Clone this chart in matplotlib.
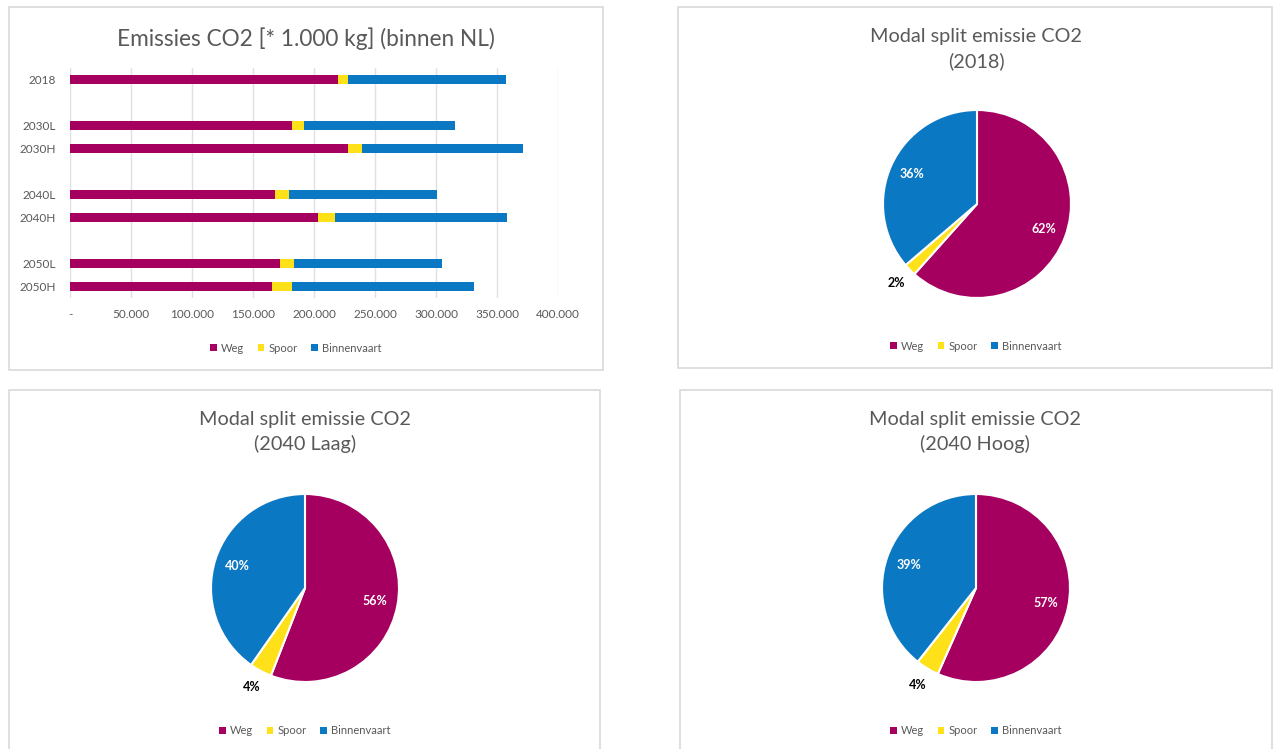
import numpy as np
import matplotlib
matplotlib.use("Agg")
import matplotlib.pyplot as plt
from matplotlib.patches import Rectangle, Patch
from matplotlib.ticker import FixedLocator, FixedFormatter

plt.rcParams['font.family'] = ['Lato', 'DejaVu Sans']

# ---------------- data ----------------
categories = ['2018', '', '2030L', '2030H', '', '2040L', '2040H', '', '2050L', '2050H']
weg = [220.0, 0, 182.0, 228.0, 0, 168.0, 203.0, 0, 172.5, 165.5]          # * 1000 ton
spoor = [7.6, 0, 10.0, 11.5, 0, 11.5, 14.3, 0, 11.5, 16.5]
binnenvaart = [129.5, 0, 123.5, 132.0, 0, 121.0, 141.0, 0, 121.0, 149.5]
series_names = ['Weg', 'Spoor', 'Binnenvaart']
xticks = [0, 50, 100, 150, 200, 250, 300, 350, 400]
xtick_labels = ['-', '50.000', '100.000', '150.000', '200.000', '250.000', '300.000', '350.000', '400.000']

pie_cases = ['2018', '2040L', '2040H']
pie_titles = ['Modal split emissie CO2\n(2018)',
              'Modal split emissie CO2\n(2040 Laag)',
              'Modal split emissie CO2\n(2040 Hoog)']

colors = ['#A5005F', '#FFE11A', '#0B78C3']
text_gray = '#595959'

W, H = 1279, 749
fig = plt.figure(figsize=(W / 100, H / 100), dpi=100)
fig.patch.set_facecolor('white')


def fx(x):
    return x / W


def fy(y):
    return 1 - y / H


# panel frames (pixel coords: left, top, right, bottom)
panels = [(9, 7, 603, 370), (678, 7, 1272, 368), (9, 390, 600, 752), (680, 390, 1272, 752)]
for (l, t, r, b) in panels:
    fig.patches.append(Rectangle((fx(l), fy(b)), fx(r - l), (b - t) / H, transform=fig.transFigure,
                                 facecolor='none', edgecolor='#D9D9D9', linewidth=1.2, zorder=-1))

# ---------------- bar chart ----------------
ax_l, ax_r, ax_t, ax_b = 70, 558, 68, 298
ax = fig.add_axes([fx(ax_l), fy(ax_b), fx(ax_r - ax_l), (ax_b - ax_t) / H])
ax.patch.set_alpha(0)
ypos = np.arange(len(categories))
left = np.zeros(len(categories))
for vals, c, name in zip([weg, spoor, binnenvaart], colors, series_names):
    ax.barh(ypos, vals, left=left, height=0.42, color=c, label=name, zorder=3)
    left = left + np.array(vals)
ax.set_ylim(len(categories) - 0.5, -0.5)
ax.set_xlim(0, 400)
ax.xaxis.set_major_locator(FixedLocator(xticks))
ax.xaxis.set_major_formatter(FixedFormatter(xtick_labels))
ax.set_yticks(ypos)
ax.set_yticklabels(categories)
ax.grid(axis='x', color='#E0E0E0', linewidth=1.0, zorder=0)
for s in ax.spines.values():
    s.set_visible(False)
ax.tick_params(axis='both', length=0, labelsize=8.5, labelcolor=text_gray)
ax.tick_params(axis='x', pad=8)
ax.tick_params(axis='y', pad=10)
fig.text(fx(306), fy(39), 'Emissies CO2 [* 1.000 kg] (binnen NL)', ha='center', va='center',
         fontsize=16.3, color=text_gray)

handles = [Patch(facecolor=c, edgecolor='none', label=n) for c, n in zip(colors, series_names)]


def add_legend(cx, cy, fs=8.0):
    fig.legend(handles=handles, loc='center', bbox_to_anchor=(fx(cx), fy(cy)), ncol=3, frameon=False,
               fontsize=fs, labelcolor=text_gray, handlelength=0.6, handleheight=0.6,
               handletextpad=0.4, columnspacing=1.2)


add_legend(296, 348)

# ---------------- pies ----------------
pie_centers = [(977, 204), (305, 588), (976, 588)]
title_pos = [(976, 49), (305, 432), (975, 432)]
legend_pos = [(976, 346), (305, 731), (976, 731)]
R = 94

for case, title, (cx, cy), (tx, ty), (lx, ly) in zip(pie_cases, pie_titles, pie_centers, title_pos, legend_pos):
    i = categories.index(case)
    vals = np.array([weg[i], spoor[i], binnenvaart[i]])
    pax = fig.add_axes([fx(cx - R), fy(cy + R), fx(2 * R), 2 * R / H])
    pax.pie(vals, colors=colors, startangle=90, counterclock=False,
            wedgeprops=dict(edgecolor='white', linewidth=1.5))
    pax.set_xlim(-1, 1)
    pax.set_ylim(-1, 1)
    pax.set_aspect('equal')
    pax.axis('off')
    frac = vals / vals.sum()
    start = 90.0
    for k, f in enumerate(frac):
        mid = np.deg2rad(start - f * 360 / 2)
        start -= f * 360
        if f > 0.1:
            d, col = 0.76, 'white'
        else:
            d, col = 1.2, 'black'
        pax.text(d * np.cos(mid), d * np.sin(mid), f'{f * 100:.0f}%', ha='center', va='center',
                 fontsize=9, fontweight='bold', color=col)
    fig.text(fx(tx), fy(ty), title, ha='center', va='center', fontsize=14.3, color=text_gray,
             linespacing=1.45)
    add_legend(lx, ly)

fig.savefig('out.png', dpi=100, facecolor='white')
